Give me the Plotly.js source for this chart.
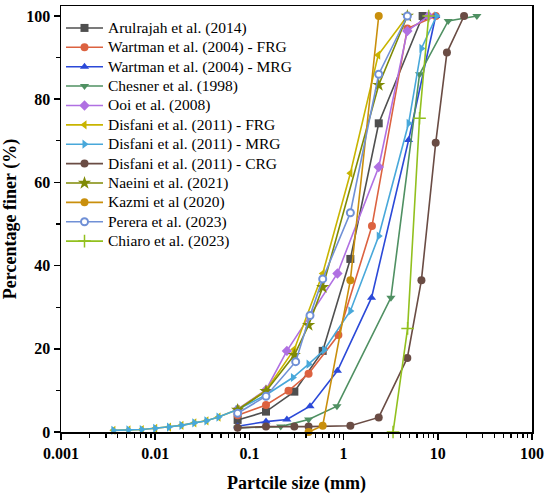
<!DOCTYPE html>
<html>
<head>
<meta charset="utf-8">
<script src="https://cdn.plot.ly/plotly-3.0.1.min.js"></script>
<style>
  html, body { margin: 0; padding: 0; background: #fff; }
  #chart { width: 550px; height: 494px; }
  /* legend rows are spaced for a ~13px font, text drawn a bit larger like the original */
  #chart .legendtext { font-size: 15.5px !important; font-family: "Liberation Serif", serif !important; }
  #chart .legend .scrollbox, #chart .legend { clip-path: none !important; }
</style>
</head>
<body>
<div id="chart"></div>
<script>
// ---- data (particle size mm / percent finer) ----
const seriesNames = [
  "Arulrajah et al. (2014)",
  "Wartman et al. (2004) - FRG",
  "Wartman et al. (2004) - MRG",
  "Chesner et al. (1998)",
  "Ooi et al. (2008)",
  "Disfani et al. (2011) - FRG",
  "Disfani et al. (2011) - MRG",
  "Disfani et al. (2011) - CRG",
  "Naeini et al. (2021)",
  "Kazmi et al (2020)",
  "Perera et al. (2023)",
  "Chiaro et al. (2023)"
];

const arulX = [0.075, 0.15, 0.3, 0.6, 1.18, 2.36, 6.9];
const arulY = [2.9, 4.9, 9.7, 19.5, 41.6, 74.2, 100];

const wartFrgX = [0.075, 0.15, 0.26, 0.425, 0.88, 2.0, 4.75, 9.5];
const wartFrgY = [4.0, 6.5, 9.9, 14.0, 23.3, 49.5, 97, 100];

const wartMrgX = [0.075, 0.15, 0.25, 0.44, 0.86, 1.98, 4.9, 9.5];
const wartMrgY = [1.4, 2.5, 3.0, 6.2, 14.7, 32.3, 70.2, 100];

const chesX = [0.075, 0.215, 0.425, 0.85, 3.18, 6.4, 12.9, 26];
const chesY = [1.0, 1.3, 3.0, 6.2, 32.3, 86, 98.8, 100];

const ooiX = [0.075, 0.15, 0.25, 0.86, 2.36, 4.75, 8.0];
const ooiY = [5.5, 10.1, 19.5, 38.1, 63.7, 96.4, 100];

const tailX = [0.0036, 0.0052, 0.0072, 0.01, 0.014, 0.019, 0.026, 0.035, 0.047];
const tailY = [0.4, 0.5, 0.6, 0.9, 1.2, 1.6, 2.2, 2.7, 3.6];

const disFrgX = [0.075, 0.15, 0.3, 0.6, 1.18, 2.33, 4.75];
const disFrgY = [5.4, 10.0, 19.9, 38.1, 62.2, 90.6, 100];

const disMrgX = [0.075, 0.15, 0.29, 0.425, 0.62, 1.18, 2.36, 4.9, 6.7, 9.7];
const disMrgY = [5.4, 8.9, 13.1, 16.3, 19.7, 29.1, 47.1, 74.2, 92.2, 100];

const disCrgX = [0.075, 0.15, 0.3, 0.425, 1.18, 2.36, 4.75, 6.7, 9.5, 12.5, 19];
const disCrgY = [1.0, 1.3, 1.3, 1.3, 1.5, 3.5, 17.8, 36.5, 69.5, 91.2, 100];

const naeX = [0.075, 0.15, 0.3, 0.425, 0.6, 2.36, 4.75];
const naeY = [5.3, 9.8, 18.5, 25.7, 34.8, 83.4, 100];

const kazX = [0.425, 0.6, 1.18, 2.36];
const kazY = [0.0, 1.5, 36.5, 100];

const perX = [0.075, 0.15, 0.31, 0.44, 0.6, 1.18, 2.36, 4.75];
const perY = [4.5, 8.6, 16.9, 28.0, 36.8, 52.7, 86, 100];

const chiX = [3.35, 4.78, 6.4, 8.0];
const chiY = [0.0, 24.9, 75.4, 100];

const colors = ["#4f4f4f", "#dc6240", "#2b49d8", "#4f9062", "#b070e2", "#c8b400",
                "#48a8da", "#6a4c44", "#7f8a05", "#c98f0c", "#7090d6", "#92c01e"];
const symbols = ["square", "circle", "triangle-up", "triangle-down", "diamond", "triangle-left",
                 "triangle-right", "circle", "star", "circle", "circle", "cross-thin"];

const xs = [arulX, wartFrgX, wartMrgX, chesX, ooiX, tailX.concat(disFrgX), tailX.concat(disMrgX),
            disCrgX, naeX, kazX, perX, chiX];
const ys = [arulY, wartFrgY, wartMrgY, chesY, ooiY, tailY.concat(disFrgY), tailY.concat(disMrgY),
            disCrgY, naeY, kazY, perY, chiY];

const traces = seriesNames.map((name, i) => {
  const c = colors[i];
  const marker = { symbol: symbols[i], size: 8, color: c, line: { width: 0, color: c } };
  if (name.startsWith("Perera")) {
    marker.color = "#ffffff";
    marker.size = 7;
    marker.line = { width: 2, color: c };
  }
  if (name.startsWith("Chiaro")) {
    marker.size = 9;
    marker.line = { width: 1.5, color: c };
  }
  if (name.startsWith("Naeini")) marker.size = 10;
  return {
    x: xs[i], y: ys[i], name: name,
    type: "scatter", mode: "lines+markers",
    line: { color: c, width: 1.6 },
    marker: marker,
    cliponaxis: false
  };
});

const serif = "Liberation Serif, Times New Roman, serif";

const layout = {
  width: 550, height: 494,
  margin: { l: 61, r: 18, t: 6, b: 62 },
  paper_bgcolor: "#ffffff",
  plot_bgcolor: "#ffffff",
  font: { family: serif, color: "#000" },
  showlegend: true,
  legend: {
    x: 0.0, y: 0.983, xanchor: "left", yanchor: "top",
    bgcolor: "rgba(0,0,0,0)",
    font: { family: serif, size: 12.6, color: "#000" },
    itemwidth: 37,
    tracegroupgap: 0
  },
  xaxis: {
    type: "log",
    range: [-3, 2],
    dtick: 1,
    exponentformat: "none",
    ticks: "outside", ticklen: 6, tickwidth: 1.5, tickcolor: "#000",
    minor: { dtick: "D1", ticks: "outside", ticklen: 4, tickwidth: 1.3, tickcolor: "#000", showgrid: false },
    showline: true, linecolor: "#000", linewidth: 1.5, mirror: true,
    showgrid: false, zeroline: false,
    tickfont: { family: serif, size: 16, color: "#000", weight: "bold" },
    title: { text: "Partcile size (mm)", standoff: 16,
             font: { family: serif, size: 18, color: "#000", weight: "bold" } }
  },
  yaxis: {
    range: [0, 102.4],
    dtick: 20,
    ticks: "outside", ticklen: 6, tickwidth: 1.5, tickcolor: "#000",
    minor: { dtick: 10, ticks: "outside", ticklen: 4, tickwidth: 1.3, tickcolor: "#000", showgrid: false },
    showline: true, linecolor: "#000", linewidth: 1.5, mirror: true,
    showgrid: false, zeroline: false,
    tickfont: { family: serif, size: 16, color: "#000", weight: "bold" },
    title: { text: "Percentage finer (%)", standoff: 10,
             font: { family: serif, size: 18, color: "#000", weight: "bold" } }
  }
};

Plotly.newPlot("chart", traces, layout, { displayModeBar: false, staticPlot: true });
</script>
</body>
</html>
